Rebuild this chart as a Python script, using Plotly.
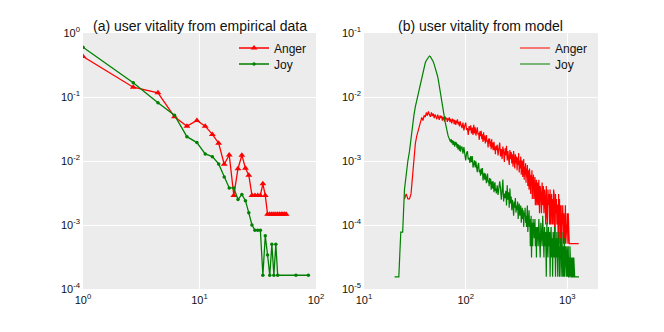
import plotly.graph_objects as go

# ---------------- (a) empirical data ----------------
emp_days_anger = [1.0, 2.7, 4.4, 6.1, 7.8, 9.5, 11.2, 12.9, 14.6, 16.3, 18.0, 19.7, 21.4, 23.1, 24.8, 26.5,
                  28.2, 29.9, 31.6, 33.3, 35.0, 36.7, 38.4, 40.1, 41.8, 43.5, 45.2, 46.9, 48.6, 50.3, 52.0,
                  53.7, 55.4]
emp_anger = [0.43, 0.142, 0.116, 0.049, 0.035, 0.043, 0.035, 0.026, 0.019, 0.0089, 0.0124, 0.0029, 0.0076,
             0.0123, 0.0077, 0.006, 0.0029, 0.0029, 0.0029, 0.0029, 0.0044, 0.0029, 0.00147, 0.00147,
             0.00147, 0.00147, 0.00147, 0.00147, 0.00147, 0.00147, 0.00147, 0.00147, 0.00147]

emp_days_joy = [1.0, 2.7, 4.4, 6.1, 7.8, 9.5, 11.2, 12.9, 14.6, 16.3, 18.0, 19.7, 21.4, 23.1, 24.8, 26.5,
                28.2, 29.9, 31.6, 33.3, 35.0, 36.7, 38.4, 40.1, 41.8, 43.5, 45.2, 46.9, 67.3, 86.0]
emp_joy = [0.6, 0.167, 0.081, 0.052, 0.024, 0.0194, 0.0129, 0.0117, 0.009, 0.0056, 0.0038, 0.0038, 0.0025,
           0.003, 0.0024, 0.00155, 0.001, 0.00083, 0.00083, 0.00083, 0.000164, 0.00068, 0.00034, 0.000164,
           0.0005, 0.000164, 0.0005, 0.000164, 0.000164, 0.000164]

# ---------------- (b) model ----------------
model_days = [
    20, 21, 22, 23, 24, 25, 26, 27, 28, 29, 30, 31, 32, 33, 34, 35, 36, 37, 38, 39, 40, 41, 42, 43, 44, 45,
    46, 47, 48, 49, 50, 51, 52, 53, 54, 55, 56, 57, 58, 59, 60, 61, 62, 63, 64, 65, 66, 67, 68, 69, 70, 71,
    72, 73, 74, 75, 76, 77, 78, 79, 80, 81, 82, 83, 84, 85, 86, 87, 88, 89, 90,
    92, 94, 96, 98, 100, 102, 104, 106, 108, 110, 112, 114, 116, 118, 120, 122, 124, 126, 128, 130, 132,
    134, 136, 138, 140, 142, 144, 146, 148, 150, 152, 154, 156, 158, 160, 162, 164, 166, 168, 170, 172,
    174, 176, 178, 180, 182, 184, 186, 188, 190, 192, 194, 196, 198, 200,
    204, 208, 212, 216, 220, 224, 228, 232, 236, 240, 244, 248, 252, 256, 260, 264, 268, 272, 276, 280,
    284, 288, 292, 296, 300, 304, 308, 312, 316, 320, 324, 328, 332, 336, 340, 344, 348, 352, 356, 360,
    364, 368, 372, 376, 380, 384, 388, 392, 396, 400, 404, 408, 412, 416, 420, 424, 428, 432, 436, 440,
    444, 448, 452, 456, 460, 464, 468, 472, 476, 480, 484, 488, 492, 496, 500,
    508, 516, 524, 532, 540, 548, 556, 564, 572, 580, 588, 596, 604, 612, 620, 628, 636, 644, 652, 660,
    668, 676, 684, 692, 700, 708, 716, 724, 732, 740, 748, 756, 764, 772, 780, 788, 796, 804, 812, 820,
    828, 836, 844, 852, 860, 868, 876, 884, 892, 900, 908, 916, 924, 932, 940, 948, 956, 964, 972, 980,
    988, 996, 1004, 1012, 1020, 1028, 1036, 1044, 1052, 1060, 1068, 1076, 1084, 1092, 1100, 1108, 1116,
    1124, 1132, 1140, 1148, 1156, 1164, 1172, 1180, 1188, 1196, 1204, 1212, 1220, 1228, 1236, 1244, 1252,
    1260, 1268, 1276, 1284, 1292, 1300]

anger_users = 19600
anger_counts = [
    None, None, None, None, None,
    5, 6, 5, 5, 6, 12, 20, 37, 48, 59, 70,
    80, 94, 84, 101, 95, 112, 100, 117, 103, 96, 113, 99, 108, 92, 105, 98, 88, 104, 95, 86,
    101, 92, 99, 84, 96, 90, 81, 97, 88, 93, 80, 91, 85, 94, 79, 89, 83, 76, 90, 82,
    87, 74, 86, 80, 72, 84, 77, 88, 73, 80, 75, 68, 82, 74, 70,
    64, 78, 59, 70, 78, 60, 64, 50, 69, 59, 71, 53, 65, 50, 72, 53, 66, 49, 60, 66,
    51, 54, 42, 57, 48, 58, 43, 51, 39, 55, 41, 49, 37, 45, 50, 39, 41, 32, 44, 37,
    44, 33, 40, 30, 43, 32, 38, 29, 35, 39, 29, 32, 25, 34, 29,
    35, 24, 31, 38, 23, 30, 21, 33, 27, 19, 31, 24, 34, 20, 28, 22, 17, 29, 21, 27,
    18, 25, 16, 28, 20, 15, 25, 18, 23, 14, 22, 17, 26, 13, 20, 15, 23, 12, 18, 20,
    11, 17, 21, 10, 16, 12, 18, 9, 15, 11, 17, 8, 14, 10, 7, 15, 9, 13, 6, 12,
    8, 14, 5, 11, 7, 12, 5, 10, 6, 11, 4, 9, 5, 10, 4,
    9, 4, 10, 3, 8, 6, 3, 9, 4, 8, 3, 7,
    5, 2, 8, 3, 2, 7, 4, 6, 2, 7, 2, 5, 6,
    2, 5, 2, 7, 6, 2, 1, 6, 3, 5, 2, 4,
    4, 1, 6, 1, 5, 2, 4, 1, 4, 1, 3, 2, 4,
    2, 1, 3, 2, 1, 2, 4, 1, 2, 1, 2, 3,
    2, 1, 3, 1, 1, 1, 1, 1, 1, 1, 1, 1, 1,
    1, 1, 1, 1, 1, 1, 1, 1, 1, 1, 1, 1,
    1, 1, 1, 1, 1, 1, 1, 1, 1, 1, 1, 1, None]

joy_users = 64500
joy_counts = [
    1, 1, 1, 5, 5, 23, 41, 65, 91, 155, 245, 339, 456, 574, 723, 910, 1120, 1345, 1620, 1900,
    2190, 2400, 2570, 2760, 2820, 2760, 2630, 2450, 2290, 2090, 1900, 1700, 1510, 1350, 1150,
    980, 810, 675, 575, 480, 405, 345, 300, 256, 223, 200, 178, 162, 152, 146, 138,
    128, 142, 122, 136, 115, 133, 121, 108, 129, 114, 126, 104, 120, 98, 116, 101, 94, 113, 90, 104,
    108, 84, 106, 83, 66, 86, 92, 68, 73, 60, 77, 62, 77, 51, 65, 66, 51, 64, 51, 43,
    55, 60, 43, 47, 38, 49, 40, 50, 32, 41, 42, 33, 41, 34, 29, 37, 41, 30, 32, 26,
    35, 28, 34, 23, 29, 31, 24, 31, 25, 21, 28, 30, 22, 24, 20,
    27, 19, 25, 31, 24, 16, 22, 33, 15, 20, 17, 22, 13, 27, 16, 21, 12, 24, 14, 18,
    11, 16, 13, 9, 15, 12, 17, 10, 13, 11, 15, 8, 12, 14, 9, 11, 13, 7, 10, 12,
    8, 11, 6, 10, 9, 12, 7, 9, 6, 10, 13, 5, 9, 7, 11, 6, 8, 3, 7, 9,
    2, 7, 6, 3, 8, 5, 7, 4, 6, 8, 3, 5, 6, 2, 5,
    6, 3, 8, 4, 2, 7, 5, 3, 9, 4, 2, 6,
    3, 5, 1, 7, 4, 2, 6, 3, 5, 1, 4, 6, 2,
    4, 1, 5, 3, 2, 6, 3, 1, 4, 2, 5, 3,
    1, 4, 2, 5, 1, 3, 2, 4, 1, 3, 5, 2, 1,
    3, 1, 2, 4, 1, 2, 3, 1, 2, 1, 3, 2,
    1, 2, 3, 1, 1, 2, 1, 3, 1, 2, 1, 1, 2,
    1, 1, 2, 1, 1, 1, 2, 1, 1, 1, 1, 1,
    1, 1, 1, 1, 1, 1, 1, 1, 1, 1, 1, 1, 1]

model_anger = [None if c is None else c / anger_users for c in anger_counts]
model_joy = [None if c is None else c / joy_users for c in joy_counts]

# tick labels
left_xticks = [1, 10, 100]
left_xlabels = ["10<sup>0</sup>", "10<sup>1</sup>", "10<sup>2</sup>"]
left_yticks = [1e-4, 1e-3, 1e-2, 1e-1, 1]
left_ylabels = ["10<sup>-4</sup>", "10<sup>-3</sup>", "10<sup>-2</sup>", "10<sup>-1</sup>", "10<sup>0</sup>"]
right_xticks = [10, 100, 1000]
right_xlabels = ["10<sup>1</sup>", "10<sup>2</sup>", "10<sup>3</sup>"]
right_yticks = [1e-5, 1e-4, 1e-3, 1e-2, 1e-1]
right_ylabels = ["10<sup>-5</sup>", "10<sup>-4</sup>", "10<sup>-3</sup>", "10<sup>-2</sup>", "10<sup>-1</sup>"]

RED = "#FF0000"
GREEN = "#008000"
BG = "#ECECEC"
TXT = "#111111"
FONT = "Liberation Sans, Arial, sans-serif"

fig = go.Figure()
fig.add_trace(go.Scatter(x=emp_days_anger, y=emp_anger, mode="lines+markers", name="Anger",
                         line=dict(color=RED, width=1.3),
                         marker=dict(symbol="triangle-up", size=6, color=RED),
                         xaxis="x", yaxis="y", legend="legend"))
fig.add_trace(go.Scatter(x=emp_days_joy, y=emp_joy, mode="lines+markers", name="Joy",
                         line=dict(color=GREEN, width=1.3),
                         marker=dict(symbol="circle", size=3.5, color=GREEN),
                         xaxis="x", yaxis="y", legend="legend2"))
fig.add_trace(go.Scatter(x=model_days, y=model_anger, mode="lines", name="Anger",
                         line=dict(color=RED, width=1.2), connectgaps=True,
                         xaxis="x2", yaxis="y2", legend="legend3"))
fig.add_trace(go.Scatter(x=model_days, y=model_joy, mode="lines", name="Joy",
                         line=dict(color=GREEN, width=1.2), connectgaps=True,
                         xaxis="x2", yaxis="y2", legend="legend4"))

W, H = 664, 332
OFF = 8  # page body margin of the rendered html
ml, mr, mt, mb = 83 - OFF, 66 + OFF, 33 - OFF, 43 + OFF
pw = W - ml - mr
ph = H - mt - mb
d1 = [0, (316 - 83) / pw]
d2 = [(364 - 83) / pw, 1]

ax_common = dict(type="log", showgrid=True, gridcolor="white", gridwidth=1, zeroline=False,
                 showline=False, ticks="", automargin=False,
                 tickfont=dict(size=11, color=TXT, family=FONT))
xax = dict(ax_common, ticklabelstandoff=3)
yax = dict(ax_common, ticklabelstandoff=2)

def leg(xpix, ypix):
    return dict(x=(xpix - 83) / pw, y=(289 - ypix) / ph, xanchor="left", yanchor="middle",
                bgcolor="rgba(0,0,0,0)", font=dict(size=12, family=FONT, color=TXT))

fig.update_layout(
    width=W, height=H,
    margin=dict(l=ml, r=mr, t=mt, b=mb),
    paper_bgcolor="white", plot_bgcolor=BG,
    font=dict(family=FONT, color=TXT),
    xaxis=dict(xax, domain=d1, range=[0, 2], tickvals=left_xticks, ticktext=left_xlabels, anchor="y"),
    yaxis=dict(yax, domain=[0, 1], range=[-4, 0], tickvals=left_yticks, ticktext=left_ylabels, anchor="x"),
    xaxis2=dict(xax, domain=d2, range=[1, 3.301], tickvals=right_xticks, ticktext=right_xlabels, anchor="y2"),
    yaxis2=dict(yax, domain=[0, 1], range=[-5, -1], tickvals=right_yticks, ticktext=right_ylabels, anchor="x2"),
    legend=leg(234, 48),
    legend2=leg(234, 64),
    legend3=leg(515, 48),
    legend4=leg(515, 64),
    showlegend=True,
    annotations=[
        dict(text="(a) user vitality from empirical data", x=(d1[0] + d1[1]) / 2, y=1, xref="paper",
             yref="paper", xanchor="center", yanchor="bottom", showarrow=False, yshift=-3,
             font=dict(size=14, family=FONT, color=TXT)),
        dict(text="(b) user vitality from model", x=(d2[0] + d2[1]) / 2, y=1, xref="paper",
             yref="paper", xanchor="center", yanchor="bottom", showarrow=False, yshift=-3,
             font=dict(size=14, family=FONT, color=TXT)),
    ],
)

fig.write_html("out.html")
